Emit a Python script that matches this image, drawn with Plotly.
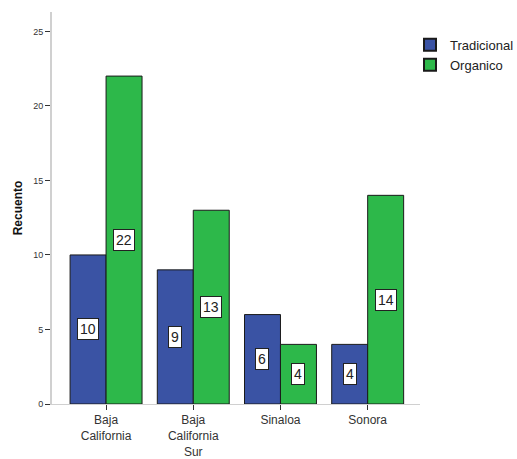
import plotly.graph_objects as go

categories = ["Baja<br>California", "Baja<br>California<br>Sur", "Sinaloa", "Sonora"]
series_names = ["Tradicional", "Organico"]
tradicional = [10, 9, 6, 4]
organico = [22, 13, 4, 14]
y_ticks = [0, 5, 10, 15, 20, 25]
colors = ["#3a53a4", "#2db84a"]

fig = go.Figure()
for name, vals, col in zip(series_names, [tradicional, organico], colors):
    fig.add_trace(go.Bar(x=categories, y=vals, name=name,
                         marker=dict(color=col, line=dict(color="#1a1a1a", width=1))))

annotations = []
for vals, shift in [(tradicional, -18), (organico, 18)]:
    for c, v in zip(categories, vals):
        annotations.append(dict(x=c, y=v / 2, text=str(v), showarrow=False, xshift=shift,
                                font=dict(family="Arial", size=14, color="#222"),
                                bgcolor="white", bordercolor="#222", borderwidth=1, borderpad=2))

fig.update_layout(
    width=517, height=459,
    margin=dict(l=52, r=97, t=12, b=55, autoexpand=False),
    paper_bgcolor="white", plot_bgcolor="white",
    barmode="group", bargap=0.175, bargroupgap=0,
    font=dict(family="Arial", color="#333"),
    showlegend=True,
    legend=dict(xref="container", yref="container", x=0.793, y=0.935,
                xanchor="left", yanchor="top",
                font=dict(size=13, color="#222"), tracegroupgap=0,
                itemsizing="constant", itemwidth=30),
    annotations=annotations,
    xaxis=dict(range=[-0.62, 3.6], showline=True, linecolor="#d0d0d0", linewidth=1,
               ticks="outside", ticklen=5, tickcolor="#333", tickwidth=1, automargin=False,
               tickfont=dict(size=12, color="#333"), showgrid=False, zeroline=False),
    yaxis=dict(range=[0, 26.3], tickvals=y_ticks, showline=True, linecolor="#d0d0d0",
               linewidth=2, ticks="outside", ticklen=5, tickcolor="#333", tickwidth=1,
               automargin=False,
               tickfont=dict(size=9, color="#333"), showgrid=False, zeroline=False,
               title=dict(text="<b>Recuento</b>", font=dict(size=12, color="#111"), standoff=8)),
)

fig.write_html("out.html")
